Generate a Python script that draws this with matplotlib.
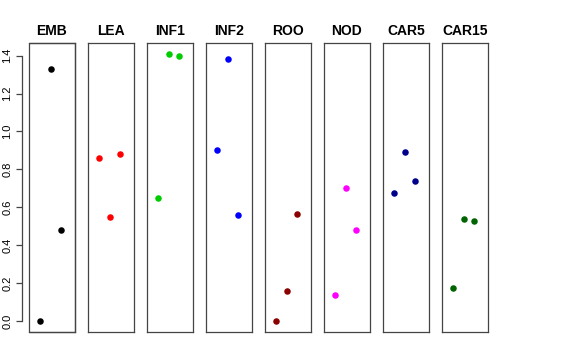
import matplotlib
matplotlib.use("Agg")
import matplotlib.pyplot as plt
from matplotlib.patches import Rectangle

plt.rcParams['font.family'] = ['Liberation Sans', 'DejaVu Sans']

tissues = ["EMB", "LEA", "INF1", "INF2", "ROO", "NOD", "CAR5", "CAR15"]
colours = ["black", "red", "#00CD00", "blue", "#8B0000", "magenta", "#00008B", "#006400"]
positions = [1, 2, 3]
values = [
    [0.00, 1.33, 0.48],
    [0.86, 0.55, 0.88],
    [0.65, 1.41, 1.40],
    [0.90, 1.38, 0.56],
    [0.00, 0.16, 0.565],
    [0.14, 0.70, 0.48],
    [0.675, 0.89, 0.74],
    [0.175, 0.54, 0.53],
]
yticks = [0.0, 0.2, 0.4, 0.6, 0.8, 1.0, 1.2, 1.4]

W, H = 576, 360
fig = plt.figure(figsize=(W / 100, H / 100), dpi=100)

for i, name in enumerate(tissues):
    left = 29 + i * 59
    ax = fig.add_axes([left / W, (H - 332) / H, 46 / W, 289 / H])
    ax.scatter(positions, values[i], s=22, color=colours[i], zorder=3, linewidths=0)
    ax.set_xlim(-0.07, 4.3)
    ax.set_ylim(-0.056, 1.466)
    ax.set_xticks([])
    ax.set_title(name, fontsize=10, fontweight='bold', pad=6)
    for s in ax.spines.values():
        s.set_color('#444444')
        s.set_linewidth(0.9)
    if i == 0:
        ax.spines['left'].set_visible(False)
        ax.add_patch(Rectangle((0, 0), 1, 1, transform=ax.transAxes, fill=False,
                               edgecolor='#444444', linewidth=0.9, clip_on=False))
        sp = ax.spines['left']
        sp.set_visible(True)
        sp.set_position(('outward', 5))
        sp.set_bounds(0, 1.4)
        ax.set_yticks(yticks)
        ax.set_yticklabels([f"{v:.1f}" for v in yticks], rotation=90, va='center', fontsize=8)
        ax.tick_params(axis='y', length=4, width=0.9, color='#444444', pad=3)
    else:
        ax.set_yticks([])

fig.savefig("out.png", dpi=100)
